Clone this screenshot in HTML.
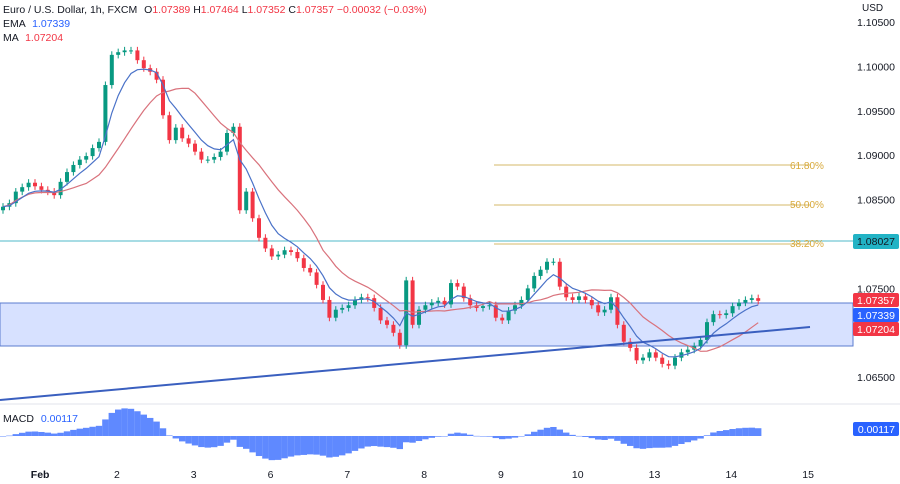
<!DOCTYPE html>
<html><head><meta charset="utf-8">
<style>
body{margin:0;background:#fff;width:900px;height:484px;overflow:hidden;font-family:"Liberation Sans",sans-serif}
svg{display:block}
text{font-family:"Liberation Sans",sans-serif}
</style></head>
<body>
<svg id="chart" width="900" height="484" viewBox="0 0 900 484" xmlns="http://www.w3.org/2000/svg">
  <rect x="0" y="303" width="853" height="43" fill="rgba(41,98,255,0.19)" stroke="#5b7ccf" stroke-width="1"/>
  <line x1="0" y1="241" x2="853" y2="241" stroke="#4fb8c8" stroke-width="1"/>
  <g>
    <line x1="494" y1="165" x2="810" y2="165" stroke="#d4b96a" stroke-width="1"/>
    <line x1="494" y1="205" x2="810" y2="205" stroke="#d4b96a" stroke-width="1"/>
    <line x1="494" y1="244" x2="810" y2="244" stroke="#d4b96a" stroke-width="1"/>
    <text x="790" y="169" font-size="10" fill="#d8a93a">61.80%</text>
    <text x="790" y="208" font-size="10" fill="#d8a93a">50.00%</text>
    <text x="790" y="247" font-size="10" fill="#d8a93a">38.20%</text>
  </g>
  <g id="candles"></g>
  <path id="ma" fill="none" stroke="#d9727c" stroke-width="1.2"/>
  <path id="ema" fill="none" stroke="#4a72c8" stroke-width="1.2"/>
  <line x1="0" y1="400" x2="810" y2="327" stroke="#3a5fbf" stroke-width="2"/>
  <line x1="0" y1="404" x2="900" y2="404" stroke="#e0e3eb" stroke-width="1"/>
  <g id="macd"></g>
  <g id="yaxis"></g>
  <g id="xaxis"></g>
  <text x="862" y="11" font-size="10" fill="#131722">USD</text>
  <g>
    <rect x="853" y="234" width="46" height="15" rx="2" fill="#22b3c5"/><text x="895" y="245" font-size="10.5" fill="#131722" text-anchor="end">1.08027</text>
    <rect x="853" y="293" width="46" height="14" rx="2" fill="#f23645"/><text x="895" y="304" font-size="10.5" fill="#fff" text-anchor="end">1.07357</text>
    <rect x="853" y="308" width="46" height="14" rx="2" fill="#2962ff"/><text x="895" y="319" font-size="10.5" fill="#fff" text-anchor="end">1.07339</text>
    <rect x="853" y="322" width="46" height="14" rx="2" fill="#f23645"/><text x="895" y="333" font-size="10.5" fill="#fff" text-anchor="end">1.07204</text>
    <rect x="853" y="422" width="46" height="14" rx="2" fill="#2962ff"/><text x="895" y="433" font-size="10.5" fill="#fff" text-anchor="end">0.00117</text>
  </g>
  <g font-size="10.5">
    <text x="3" y="13" fill="#131722">Euro / U.S. Dollar, 1h, FXCM <tspan dx="4" fill="#131722">O</tspan><tspan fill="#f23645">1.07389</tspan> <tspan fill="#131722">H</tspan><tspan fill="#f23645">1.07464</tspan> <tspan fill="#131722">L</tspan><tspan fill="#f23645">1.07352</tspan> <tspan fill="#131722">C</tspan><tspan fill="#f23645">1.07357</tspan> <tspan fill="#f23645">−0.00032 (−0.03%)</tspan></text>
    <text x="3" y="27" fill="#131722">EMA <tspan dx="4" fill="#2962ff">1.07339</tspan></text>
    <text x="3" y="41" fill="#131722">MA <tspan dx="4" fill="#f23645">1.07204</tspan></text>
    <text x="3" y="422" fill="#131722">MACD <tspan dx="4" fill="#2962ff">0.00117</tspan></text>
  </g>
</svg>
<script>
const closes = [1.0842,1.0846,1.0859,1.0864,1.0869,1.0865,1.0861,1.0859,1.0855,1.0870,
1.0881,1.0889,1.0895,1.0899,1.0908,1.0915,1.0979,1.1013,1.1016,1.1018,
1.1018,1.1007,1.0998,1.0994,1.0985,1.0945,1.0917,1.0931,1.0919,1.0913,
1.0904,1.0895,1.0895,1.0898,1.0904,1.0925,1.0932,1.0838,1.0859,1.0829,
1.0807,1.0795,1.0786,1.0788,1.0793,1.0791,1.0784,1.0773,1.0768,1.0754,
1.0737,1.0717,1.0726,1.0728,1.0731,1.0737,1.0740,1.0739,1.0728,1.0714,
1.0709,1.0700,1.0686,1.0759,1.0709,1.0726,1.0731,1.0734,1.0736,1.0732,
1.0756,1.0752,1.0739,1.0731,1.0728,1.0730,1.0731,1.0717,1.0714,1.0725,
1.0731,1.0737,1.0750,1.0764,1.0771,1.0780,1.0780,1.0752,1.0740,1.0737,
1.0741,1.0737,1.0731,1.0723,1.0726,1.0740,1.0709,1.0690,1.0683,1.0669,
1.0672,1.0678,1.0672,1.0665,1.0663,1.0672,1.0678,1.0681,1.0685,1.0692,
1.0712,1.0721,1.0720,1.0722,1.0730,1.0734,1.0737,1.0739,1.0736];
const firstOpen = 1.0838;
const priceTicks = ["1.10500","1.10000","1.09500","1.09000","1.08500","1.07500","1.06500"];
const dateLabels = ["Feb","2","3","6","7","8","9","10","13","14","15"];
const dateSlots = [5.8,17.8,29.8,41.8,53.8,65.8,77.8,89.8,101.8,113.8,125.8];

const NS="http://www.w3.org/2000/svg";
const yP = p => 22 + (1.105 - p) * 8880;
const xI = i => 3 + i * 6.4;
function mk(tag, attrs, parent){const e=document.createElementNS(NS,tag);for(const k in attrs)e.setAttribute(k,attrs[k]);parent.appendChild(e);return e;}

const cg=document.getElementById('candles');
closes.forEach((c,i)=>{
  const o = i===0 ? firstOpen : closes[i-1];
  const up = c>=o, col = up ? '#089981' : '#f23645';
  const hi = Math.max(o,c)+0.0004, lo = Math.min(o,c)-0.0004;
  const g = mk('g',{},cg);
  
  
  mk('line',{x1:xI(i),x2:xI(i),y1:yP(hi),y2:yP(lo),stroke:col,'stroke-width':1},g);
  const t=yP(Math.max(o,c)), b=yP(Math.min(o,c));
  mk('rect',{x:xI(i)-2,y:t,width:4,height:Math.max(1,b-t),fill:col},g);
});

function ema(arr,n){const k=2/(n+1);let e=arr[0];return arr.map(v=>e=v*k+e*(1-k));}
function sma(arr,n){return arr.map((v,i)=>{const s=arr.slice(Math.max(0,i-n+1),i+1);return s.reduce((a,b)=>a+b,0)/s.length;});}
const lineD = a => a.map((v,i)=>(i?'L':'M')+xI(i).toFixed(1)+' '+yP(v).toFixed(1)).join(' ');
document.getElementById('ema').setAttribute('d', lineD(ema(closes,6)));
document.getElementById('ma').setAttribute('d', lineD(sma(closes,14)));

const e1=ema(closes,6), e2=ema(closes,13);
const macd = closes.map((v,i)=>e1[i]-e2[i]);
const mg=document.getElementById('macd');
const zero=436, sc=6800;
macd.forEach((m,i)=>{
  const h=m*sc;
  const r=mk('rect',{x:xI(i)-3.2,y:h>0?zero-h:zero,width:6.4,height:Math.max(0.5,Math.abs(h)),fill:'#2962ff',opacity:0.75},mg);
  
  
});

const ya=document.getElementById('yaxis');
priceTicks.forEach(t=>{
  const tx=mk('text',{x:895,y:yP(parseFloat(t))+4,'font-size':10.5,fill:'#131722','text-anchor':'end'},ya);
  tx.textContent=t;
  
  
});
const xa=document.getElementById('xaxis');
dateLabels.forEach((d,i)=>{
  const tx=mk('text',{x:xI(dateSlots[i]),y:478,'font-size':10.5,fill:'#131722','text-anchor':'middle','font-weight':i===0?'bold':'normal'},xa);
  tx.textContent=d;
  
  
});
</script>
</body></html>
